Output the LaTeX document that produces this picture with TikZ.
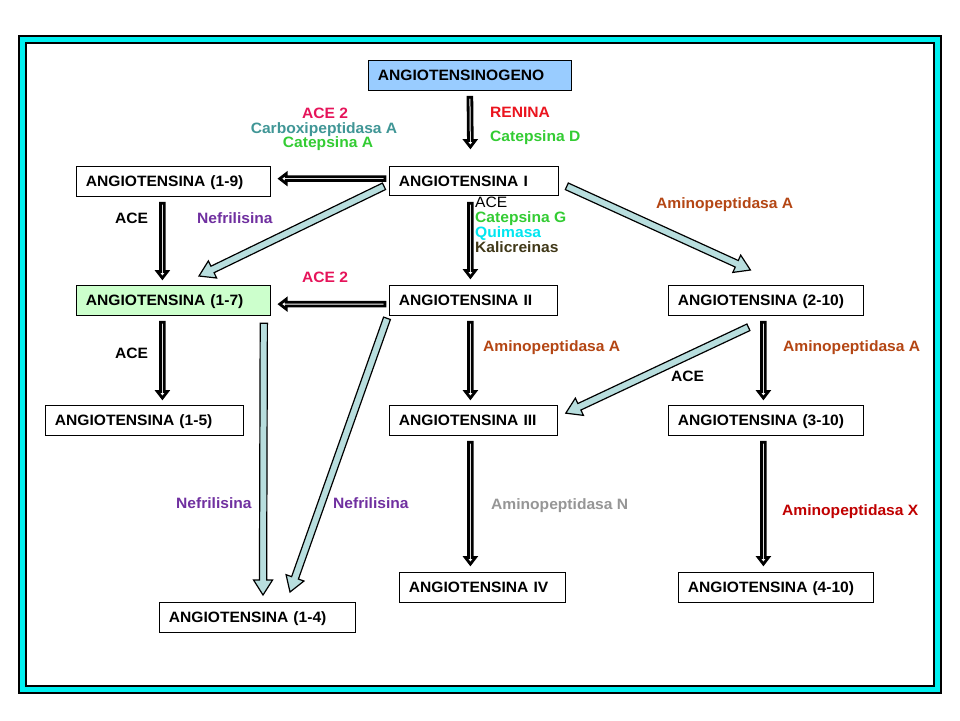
\documentclass[tikz,border=0pt]{standalone}
\usepackage{fontspec}
\setmainfont{Liberation Sans}[FakeStretch=1.04]
\usetikzlibrary{calc}
\definecolor{framecyan}{RGB}{0,240,240}
\definecolor{genofill}{RGB}{153,204,255}
\definecolor{greenfill}{RGB}{204,255,204}
\definecolor{arrowblue}{RGB}{184,222,222}
\definecolor{acetwo}{RGB}{230,20,90}
\definecolor{carbox}{RGB}{64,150,150}
\definecolor{catgreen}{RGB}{51,204,51}
\definecolor{renina}{RGB}{235,20,30}
\definecolor{quimasa}{RGB}{0,230,240}
\definecolor{kali}{RGB}{64,56,24}
\definecolor{aminoA}{RGB}{180,70,20}
\definecolor{nefri}{RGB}{112,48,160}
\definecolor{aminoN}{RGB}{150,150,150}
\definecolor{aminoX}{RGB}{192,0,0}
\newcommand\boxfont{\fontsize{15}{15}\selectfont\bfseries}
% generic block arrow: style, shaft half width, head half width, head length, tail, tip
\newcommand\blockarr[6]{%
  \filldraw[#1] let \p1=#5, \p2=#6, \p3=($(\p2)!#4!(\p1)$) in
  ($(\p1)!#2!90:(\p2)$) -- ($(\p3)!#2!90:(\p2)$) -- ($(\p3)!#3!90:(\p2)$) -- (\p2)
  -- ($(\p3)!#3!-90:(\p2)$) -- ($(\p3)!#2!-90:(\p2)$) -- ($(\p1)!#2!-90:(\p2)$) -- cycle;}
\newcommand\blackarr[2]{\blockarr{darkarrow}{1.9pt}{5pt}{6.5pt}{#1}{#2}}
\newcommand\bluearr[2]{\blockarr{lightarrow}{3.6pt}{9.5pt}{15pt}{#1}{#2}}
\tikzset{
  darkarrow/.style={fill=white, draw=black, line width=2.8pt, line join=miter, miter limit=4},
  lightarrow/.style={fill=arrowblue, draw=black, line width=1.2pt, line join=miter},
  box/.style={draw, line width=0.8pt, fill=white, inner xsep=9.5pt, inner ysep=0pt,
    anchor=north west, align=left, font=\boxfont, text height=10.7pt, text depth=0pt,
    minimum height=29.5pt},
  lbl/.style={inner sep=0pt, anchor=base west, font=\boxfont},
  lblc/.style={inner sep=0pt, anchor=base, font=\boxfont},
}
\begin{document}
\begin{tikzpicture}[x=1pt, y=-1pt]
\useasboundingbox (0,0) rectangle (960,720);
\fill[white] (0,0) rectangle (960,720);
% frame
\draw[fill=framecyan, line width=1.2pt] (19,36) rectangle (941,693);
\draw[fill=white, line width=1.2pt] (26,43) rectangle (934,686);
% boxes
\node[box, fill=genofill, text width=184pt] (GENO) at (368,60) {ANGIOTENSINOGENO};
\node[box, text width=175pt] (A19) at (76,166) {ANGIOTENSINA (1-9)};
\node[box, text width=150pt, minimum height=28.5pt] (AI) at (389,166) {ANGIOTENSINA I};
\node[box, fill=greenfill, text width=175pt] (A17) at (76,285) {ANGIOTENSINA (1-7)};
\node[box, text width=149pt] (AII) at (389,285) {ANGIOTENSINA II};
\node[box, text width=176pt] (A210) at (668,285) {ANGIOTENSINA (2-10)};
\node[box, text width=179pt] (A15) at (45,405) {ANGIOTENSINA (1-5)};
\node[box, text width=149pt] (AIII) at (389,405) {ANGIOTENSINA III};
\node[box, text width=176pt] (A310) at (668,405) {ANGIOTENSINA (3-10)};
\node[box, text width=147pt] (AIV) at (399,572) {ANGIOTENSINA IV};
\node[box, text width=176pt] (A410) at (678,572) {ANGIOTENSINA (4-10)};
\node[box, text width=177pt] (A14) at (159,602) {ANGIOTENSINA (1-4)};
% dark arrows
\blackarr{([yshift=-7pt]GENO.south)}{([shift={(-3.5pt,19pt)}]AI.north)}
\blackarr{([shift={(-4pt,2pt)}]AI.west)}{([shift={(9pt,2.5pt)}]A19.east)}
\blackarr{([shift={(-11pt,-7pt)}]A19.south)}{([shift={(-11pt,7pt)}]A17.north)}
\blackarr{([shift={(-3.5pt,-8pt)}]AI.south)}{([shift={(-3pt,8pt)}]AII.north)}
\blackarr{([shift={(-4pt,-4pt)}]AII.west)}{([shift={(9pt,-4pt)}]A17.east)}
\blackarr{([shift={(-11pt,-7pt)}]A17.south)}{([shift={(18pt,7pt)}]A15.north)}
\blackarr{([shift={(-3pt,-7pt)}]AII.south)}{([shift={(-3pt,7pt)}]AIII.north)}
\blackarr{([shift={(-2.5pt,-7pt)}]A210.south)}{([shift={(-2.5pt,7pt)}]A310.north)}
\blackarr{([shift={(-3pt,-7pt)}]AIII.south)}{([shift={(-12pt,8pt)}]AIV.north)}
\blackarr{([shift={(-2.5pt,-7pt)}]A310.south)}{([shift={(-12.5pt,8pt)}]A410.north)}
% light arrows
\bluearr{([shift={(-5pt,9pt)}]AI.south west)}{([shift={(123pt,9pt)}]A17.north west)}
\bluearr{([shift={(8pt,9pt)}]AI.south east)}{([shift={(-15.5pt,15pt)}]A210.north)}
\bluearr{([shift={(-7pt,-8pt)}]A17.south east)}{([shift={(104pt,7pt)}]A14.north west)}
\bluearr{([shift={(-2pt,-3pt)}]AII.south west)}{([shift={(131pt,10pt)}]A14.north west)}
\bluearr{([shift={(-17.5pt,-12pt)}]A210.south)}{([shift={(8pt,7pt)}]AIII.east)}
% labels
\node[lblc, acetwo] (l1) at (325,118) {ACE 2};
\node[lblc, carbox] (l2) at (324,133) {Carboxipeptidasa A};
\node[lblc, catgreen] (l3) at (328,147) {Catepsina A};
\node[lbl, renina] (l4) at (490,117) {RENINA};
\node[lbl, catgreen] (l5) at (490,141) {Catepsina D};
\node[lbl] (l6) at (115,223) {ACE};
\node[lbl, nefri] (l7) at (197,223) {Nefrilisina};
\node[lbl, font=\fontsize{15}{15}\selectfont] (l8) at (475,207) {ACE};
\node[lbl, catgreen] (l9) at (475,222) {Catepsina G};
\node[lbl, quimasa] (l10) at (475,237) {Quimasa};
\node[lbl, kali] (l11) at (475,252) {Kalicreinas};
\node[lbl, aminoA] (l12) at (656,208) {Aminopeptidasa A};
\node[lblc, acetwo] (l13) at (325,282) {ACE 2};
\node[lbl] (l14) at (115,358) {ACE};
\node[lbl, aminoA] (l15) at (483,351) {Aminopeptidasa A};
\node[lbl, aminoA] (l16) at (783,351) {Aminopeptidasa A};
\node[lbl] (l17) at (671,381) {ACE};
\node[lbl, nefri] (l18) at (176,508) {Nefrilisina};
\node[lbl, nefri] (l19) at (333,508) {Nefrilisina};
\node[lbl, aminoN] (l20) at (491,509) {Aminopeptidasa N};
\node[lbl, aminoX] (l21) at (782,515) {Aminopeptidasa X};
\end{tikzpicture}
\end{document}
